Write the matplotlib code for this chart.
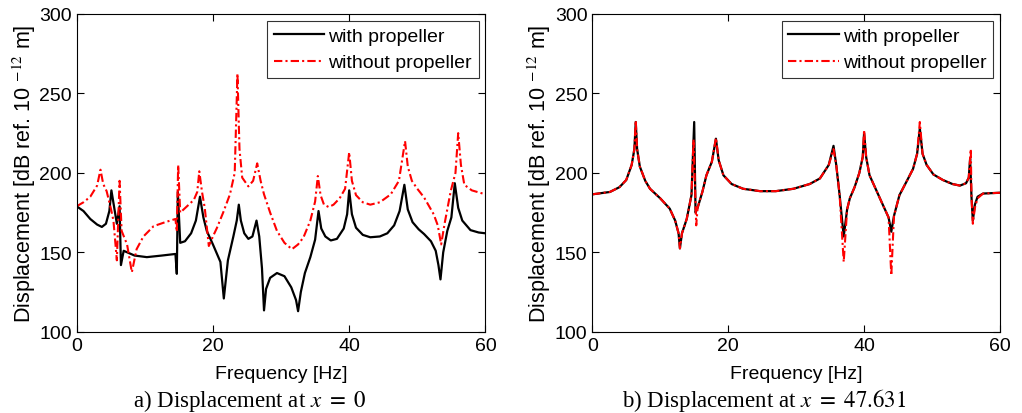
import numpy as np
import matplotlib.pyplot as plt

plt.rcParams['font.family'] = ['Liberation Sans', 'DejaVu Sans']
plt.rcParams['mathtext.fontset'] = 'stix'

# a) displacement at x = 0
fa_with = [0, 1.0, 2.0, 3.0, 3.7, 4.3, 4.8, 5.1, 5.9, 6.3, 6.5, 6.9, 8.5, 10.3, 12.5, 14.5, 14.7, 14.85,
           15.2, 15.9, 16.8, 17.5, 18.1, 18.6, 19.1, 20.0, 20.6, 21.1, 21.6, 22.2, 23.0, 23.5, 23.8,
           24.1, 24.6, 25.2, 25.8, 26.4, 26.8, 27.2, 27.5, 27.8, 28.4, 29.4, 30.5, 31.5, 32.2, 32.5,
           32.9, 33.5, 34.3, 35.0, 35.5, 35.9, 36.5, 37.3, 38.2, 39.2, 39.7, 40.0, 40.4, 41.0, 42.0,
           43.1, 44.5, 45.6, 46.6, 47.4, 48.1, 48.6, 49.3, 50.2, 51.0, 52.0, 52.7, 53.1, 53.4, 53.8,
           54.4, 55.0, 55.5, 56.0, 56.6, 57.8, 59.0, 60]
da_with = [179, 176, 171, 167.5, 166, 168, 176, 189, 168, 179, 142, 151, 148, 147, 148, 149, 136.5, 188,
           156, 157, 162, 170, 185, 172, 163.5, 155, 149, 144, 121, 145, 160, 170, 180,
           170, 162, 158.5, 160, 170, 160, 140, 113.5, 127, 134, 137, 135, 128, 120, 113,
           125, 137, 147, 158, 176, 165, 160, 157.5, 158.5, 165, 174, 189, 174, 165.5, 161,
           159.5, 160, 162, 167, 176, 192.5, 177, 169, 164.5, 161.5, 157, 151, 142, 133, 150,
           163.5, 172, 193.5, 178, 170, 164, 162.5, 162]

fa_without = [0, 1.0, 2.0, 3.0, 3.5, 3.9, 4.4, 5.0, 5.4, 5.9, 6.3, 6.6, 7.4, 8.1, 8.8, 9.8, 11.3, 13.0,
              14.5, 14.7, 14.9, 15.2, 16.2, 17.2, 17.7, 18.0, 18.4, 18.8, 19.4, 20.0, 20.6, 21.5, 22.5,
              23.2, 23.6, 23.9, 24.3, 25.2, 25.9, 26.5, 27.0, 27.5, 28.4, 29.4, 30.5, 31.6, 32.5, 33.3,
              34.3, 35.0, 35.4, 35.8, 36.3, 37.0, 37.7, 38.6, 39.4, 40.0, 40.4, 41.0, 42.0, 43.1, 44.5,
              46.1, 47.3, 48.2, 48.6, 49.2, 50.0, 51.0, 52.4, 53.0, 53.5, 54.0, 54.9, 55.6, 56.0, 56.4,
              56.9, 58.0, 60]
da_without = [179, 181.5, 185, 192, 202, 193, 188.5, 178, 170, 145, 195, 163.5, 155, 137.5, 152, 160, 166.5, 169,
              171, 163, 205, 175, 179, 183, 188, 201, 188, 178, 154, 160, 165.5, 175, 186.5,
              200, 262.5, 215, 197, 191.5, 195, 206, 195, 186.5, 175, 163.5, 156, 152, 155, 159.5,
              170, 182, 198, 186, 180, 178.5, 180, 184, 190, 213, 195, 186, 181.5, 180, 181.5,
              186.5, 195, 220, 204, 195, 190, 184.5, 174, 167, 155, 168, 188.5, 200, 225, 205,
              192.5, 189, 186.5]

# b) displacement at x = 47.631
fb_with = [0, 2.6, 4.0, 5.0, 5.8, 6.2, 6.4, 6.6, 7.0, 7.8, 8.5, 10.0, 11.4, 12.2, 12.7, 12.9, 13.2,
           13.9, 14.6, 15.0, 15.2, 15.5, 16.2, 16.8, 17.6, 18.2, 18.6, 19.3, 20.5, 22.2, 24.7, 27.0,
           29.6, 32.0, 33.5, 34.8, 35.5, 35.9, 36.4, 37.0, 37.5, 37.9, 38.6, 39.3, 39.8, 40.0, 40.3,
           40.8, 41.8, 42.8, 43.6, 44.0, 44.4, 45.2, 46.3, 47.2, 47.8, 48.2, 48.6, 49.2, 50.2, 51.6,
           53.0, 54.1, 55.0, 55.4, 55.6, 55.8, 56.0, 56.3, 56.7, 57.5, 60]
db_with = [186.5, 188, 191, 195.5, 205, 215, 232, 215, 204, 195, 190, 184, 177.5, 170, 162, 152.5, 162,
           171, 186, 232, 175, 178, 188, 198.5, 207, 221.5, 208, 198.5, 193, 190, 188.5, 188.5,
           190, 193, 196.5, 205, 217, 205, 186, 160, 177, 184, 191, 200, 210, 225, 210,
           198.5, 189, 179.5, 172, 163, 173, 186, 195, 202.5, 212, 228, 212, 205, 199, 195.5,
           193, 192, 193.5, 197, 209, 185, 170, 180, 185, 187, 187.5]

fb_without = [0, 2.6, 4.0, 5.0, 5.8, 6.2, 6.4, 6.6, 7.0, 7.8, 8.5, 10.0, 11.4, 12.2, 12.7, 12.9, 13.2,
              13.9, 14.6, 14.9, 15.3, 15.5, 16.2, 16.8, 17.6, 18.2, 18.6, 19.3, 20.5, 22.2, 24.7, 27.0,
              29.6, 32.0, 33.5, 34.8, 35.5, 35.9, 36.4, 37.0, 37.5, 37.9, 38.6, 39.3, 39.8, 40.0, 40.3,
              40.8, 41.8, 42.8, 43.6, 44.0, 44.4, 45.2, 46.3, 47.2, 47.8, 48.2, 48.6, 49.2, 50.2, 51.6,
              53.0, 54.1, 55.0, 55.4, 55.7, 55.8, 56.0, 56.3, 56.7, 57.5, 60]
db_without = [186.5, 188, 191, 195.5, 205, 215, 233, 215, 204, 195, 190, 184, 177.5, 170, 162, 152.5, 162,
              171, 186, 221, 167, 178, 188, 198.5, 207, 222, 208, 198.5, 193, 190, 188.5, 188.5,
              190, 193, 196.5, 205, 215, 205, 186, 144, 177, 184, 191, 200, 210, 227, 210,
              198.5, 189, 179.5, 172, 135.5, 173, 186, 195, 202.5, 212, 232, 212, 205, 199, 195.5,
              193, 192, 193.5, 197, 215, 185, 168, 178, 184, 187, 187.5]

fig = plt.figure(figsize=(10.22, 4.14), dpi=100)
ax1 = fig.add_axes([0.075, 0.196, 0.400, 0.768])
ax2 = fig.add_axes([0.5795, 0.196, 0.399, 0.768])

panels = [(ax1, fa_with, da_with, fa_without, da_without, 'a) Displacement at $x\\ =\\ 0$', 0.244),
          (ax2, fb_with, db_with, fb_without, db_without, 'b) Displacement at $x\\ =\\ 47.631$', 0.748)]

for ax, fw, dw, fo, do, cap, cx in panels:
    ax.plot(fw, dw, color='black', lw=1.6, label='with propeller')
    ax.plot(fo, do, color='red', lw=1.5, ls=(0, (4, 1.5, 1, 1.5)), label='without propeller')
    ax.set_xlim(0, 60)
    ax.set_ylim(100, 300)
    ax.set_xticks([0, 20, 40, 60])
    ax.set_yticks([100, 150, 200, 250, 300])
    ax.tick_params(direction='in', top=True, right=True, labelsize=14, length=5)
    ax.set_xlabel('Frequency [Hz]', fontsize=14, labelpad=8)
    ax.set_ylabel('Displacement [dB ref. 10 $^{-12}$ m]', fontsize=15.5, labelpad=1)
    leg = ax.legend(loc='upper right', fontsize=14, frameon=True, fancybox=False,
                    edgecolor='black', borderaxespad=0.35, handlelength=2.6,
                    handletextpad=0.2, borderpad=0.35, labelspacing=0.45)
    leg.get_frame().set_linewidth(0.8)
    fig.text(cx, 0.018, cap, ha='center', va='baseline',
             fontsize=16.5, family=['Liberation Serif', 'DejaVu Serif'])

fig.savefig('out.png', dpi=100)
